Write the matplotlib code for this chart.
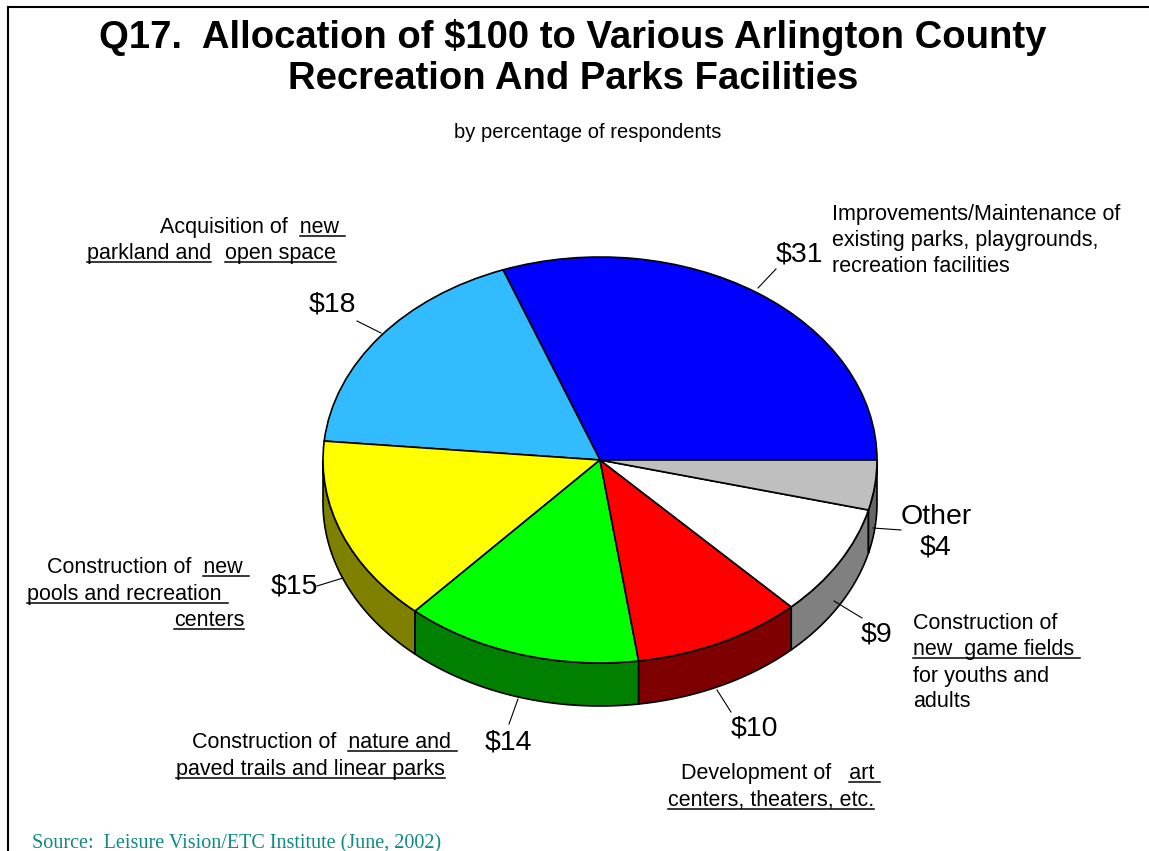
import matplotlib
matplotlib.use("Agg")
import matplotlib.pyplot as plt
import numpy as np
from matplotlib.lines import Line2D
from matplotlib.font_manager import FontProperties

# slice data (counter-clockwise from 3 o'clock)
values = [31, 18, 15, 14, 10, 9, 4]
value_labels = ["$31", "$18", "$15", "$14", "$10", "$9", "Other\n$4"]
top_colors = ["#0000FF", "#33BBFF", "#FFFF00", "#00FF00", "#FF0000", "#FFFFFF", "#BFBFBF"]
side_colors = ["#00007F", "#1A5E80", "#808000", "#007F00", "#7F0000", "#808080", "#666666"]

W, H = 1149, 851
CX, CY, RX, RY, DEPTH = 600, 460, 277, 203, 43

fig = plt.figure(figsize=(W / 100, H / 100), dpi=100)
ax = fig.add_axes([0, 0, 1, 1])

# side walls of the front half
d = DEPTH / RY
bounds = np.concatenate([[0], np.cumsum(values)]) / sum(values) * 360
for i in range(len(values)):
    a, b = max(bounds[i], 180), bounds[i + 1]
    if b <= a:
        continue
    t = np.radians(np.linspace(a, b, 100))
    xs = np.concatenate([np.cos(t), np.cos(t[::-1])])
    ys = np.concatenate([np.sin(t), np.sin(t[::-1]) - d])
    ax.fill(xs, ys, facecolor=side_colors[i], edgecolor="black", linewidth=1.2, zorder=0.5)

ax.pie(values, colors=top_colors, startangle=0, counterclock=True,
       wedgeprops=dict(edgecolor="black", linewidth=1.2))
ax.set_aspect("auto")
ax.set_xlim(-CX / RX, (W - CX) / RX)
ax.set_ylim((CY - H) / RY, CY / RY)
ax.axis("off")


def fx(px):
    return px / W


def fy(py):
    return 1 - py / H


def line(x0, y0, x1, y1, lw=0.9):
    fig.add_artist(Line2D([fx(x0), fx(x1)], [fy(y0), fy(y1)], transform=fig.transFigure,
                          color="black", linewidth=lw))


# titles
fig.text(fx(573), fy(37), "Q17.  Allocation of $100 to Various Arlington County", ha="center",
         va="center", fontsize=27.5, fontweight="bold", family="Liberation Sans")
fig.text(fx(573), fy(79), "Recreation And Parks Facilities", ha="center", va="center",
         fontsize=27.5, fontweight="bold", family="Liberation Sans")
fig.text(fx(588), fy(133), "by percentage of respondents", ha="center", va="center",
         fontsize=14.5, family="Liberation Sans")
fig.text(fx(32), fy(848), "Source:  Leisure Vision/ETC Institute (June, 2002)", ha="left",
         va="baseline", fontsize=14.5, family="Liberation Serif", color="#0E8A84")

# frame
line(8, 7, W, 7, lw=1.5)
line(8, 7, 8, H, lw=1.5)

# value labels and leaders
value_pos = [(799, 255), (332, 305), (294, 586), (508, 742), (754, 729), (877, 635), (936, 532)]
leaders = [((758, 288), (776, 269)), ((357, 321), (381, 333)), ((317, 586), (343, 578)),
           ((509, 724), (518, 699)), ((717, 690), (731, 712)), ((834, 601), (862, 618)),
           ((873, 528), (901, 530))]
for lab, (px, py), (p0, p1) in zip(value_labels, value_pos, leaders):
    fig.text(fx(px), fy(py), lab, ha="center", va="center", fontsize=20.5,
             family="Liberation Sans", linespacing=1.25)
    line(p0[0], p0[1], p1[0], p1[1], lw=0.8)

# category labels: (x, baseline, prefix, underlined part, anchor)
label_fp = FontProperties(family="Liberation Sans", size=15.5)
cat_lines = [
    (832, 220, "Improvements/Maintenance of", "", "left"),
    (832, 246, "existing parks, playgrounds,", "", "left"),
    (832, 272, "recreation facilities", "", "left"),
    (160, 233, "Acquisition of  ", "new ", "left"),
    (211, 259, "", "parkland and", "right"),
    (225, 259, "", "open space", "left"),
    (47, 573, "Construction of  ", "new ", "left"),
    (27, 600, "", "pools and recreation ", "left"),
    (174, 626, "", "centers", "left"),
    (192, 748, "Construction of  ", "nature and ", "left"),
    (176, 775, "", "paved trails and linear parks", "left"),
    (681, 779, "Development of   ", "art ", "left"),
    (668, 806, "", "centers, theaters, etc.", "left"),
    (913, 629, "Construction of", "", "left"),
    (913, 655, "", "new  game fields ", "left"),
    (913, 682, "for youths and", "", "left"),
    (913, 707, "adults", "", "left"),
]
renderer = fig.canvas.get_renderer()


def text_w(s):
    w1 = renderer.get_text_width_height_descent(s + "|", label_fp, ismath=False)[0]
    w2 = renderer.get_text_width_height_descent("|", label_fp, ismath=False)[0]
    return w1 - w2


for x, yb, pre, und, anchor in cat_lines:
    if anchor == "right":
        x = x - text_w(pre + und)
    fig.text(fx(x), fy(yb), pre + und, ha="left", va="baseline", fontproperties=label_fp)
    if und:
        u0 = x + text_w(pre)
        u1 = x + text_w(pre + und)
        line(u0, yb + 3, u1, yb + 3, lw=1.1)

fig.savefig("out.png", dpi=100)
